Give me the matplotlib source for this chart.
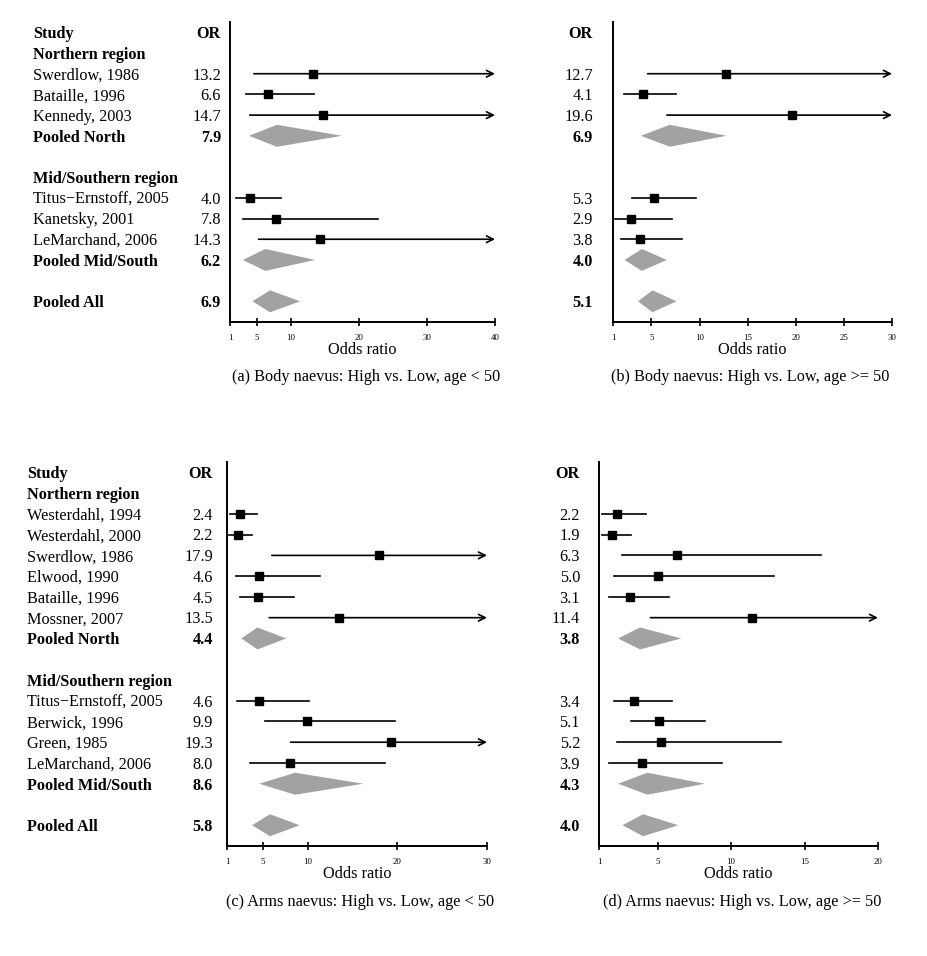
import matplotlib
matplotlib.use("Agg")
import matplotlib.pyplot as plt
from matplotlib.patches import Polygon
from matplotlib.transforms import blended_transform_factory

plt.rcParams['font.family'] = ['Liberation Serif', 'DejaVu Serif']

W, H = 928, 956
FS = 11.7
BASE = 0.28  # baseline offset of a row's text, in rows

# ---- data: body naevus (panels a, b) ----
body_north = ["Swerdlow, 1986", "Bataille, 1996", "Kennedy, 2003"]
body_south = ["Titus\u2212Ernstoff, 2005", "Kanetsky, 2001", "LeMarchand, 2006"]

a_or = [13.2, 6.6, 14.7, 7.9, 4.0, 7.8, 14.3, 6.2, 6.9]
a_lo = [4.5, 3.4, 3.9, 3.8, 1.9, 2.9, 5.2, 2.9, 4.3]
a_hi = [45.0, 13.3, 48.0, 17.5, 8.5, 22.8, 46.0, 13.5, 11.3]

b_or = [12.7, 4.1, 19.6, 6.9, 5.3, 2.9, 3.8, 4.0, 5.1]
b_lo = [4.6, 2.1, 6.6, 3.9, 3.0, 1.2, 1.8, 2.2, 3.6]
b_hi = [35.0, 7.6, 58.0, 12.8, 9.6, 7.1, 8.2, 6.6, 7.6]

# ---- data: arms naevus (panels c, d) ----
arms_north = ["Westerdahl, 1994", "Westerdahl, 2000", "Swerdlow, 1986",
              "Elwood, 1990", "Bataille, 1996", "Mossner, 2007"]
arms_south = ["Titus\u2212Ernstoff, 2005", "Berwick, 1996", "Green, 1985",
              "LeMarchand, 2006"]

c_or = [2.4, 2.2, 17.9, 4.6, 4.5, 13.5, 4.4, 4.6, 9.9, 19.3, 8.0, 8.6, 5.8]
c_lo = [1.3, 1.2, 6.0, 2.0, 2.4, 5.7, 2.6, 2.1, 5.2, 8.1, 3.6, 4.6, 3.8]
c_hi = [4.4, 3.8, 52.0, 11.4, 8.5, 33.0, 7.6, 10.2, 19.7, 45.0, 18.6, 16.2, 9.1]

d_or = [2.2, 1.9, 6.3, 5.0, 3.1, 11.4, 3.8, 3.4, 5.1, 5.2, 3.9, 4.3, 4.0]
d_lo = [1.2, 1.2, 2.6, 2.0, 1.7, 4.5, 2.3, 2.0, 3.2, 2.2, 1.7, 2.3, 2.6]
d_hi = [4.2, 3.2, 16.1, 12.9, 5.8, 29.0, 6.6, 6.0, 8.2, 13.4, 9.4, 8.2, 6.4]

a_ticks = [1, 5, 10, 20, 30, 40]
b_ticks = [1, 5, 10, 15, 20, 25, 30]
c_ticks = [1, 5, 10, 20, 30]
d_ticks = [1, 5, 10, 15, 20]

captions = ["(a) Body naevus: High vs. Low, age < 50",
            "(b) Body naevus: High vs. Low, age >= 50",
            "(c) Arms naevus: High vs. Low, age < 50",
            "(d) Arms naevus: High vs. Low, age >= 50"]


def layout(north, south):
    # rows of the table: (row, label, kind), plus rows of the estimates
    rows = [(0, "Study", "head"), (1, "Northern region", "head")]
    est_rows = []
    r = 2
    for s in north:
        rows.append((r, s, "study")); est_rows.append((r, "study")); r += 1
    rows.append((r, "Pooled North", "pool")); est_rows.append((r, "pool")); r += 2
    rows.append((r, "Mid/Southern region", "head")); r += 1
    for s in south:
        rows.append((r, s, "study")); est_rows.append((r, "study")); r += 1
    rows.append((r, "Pooled Mid/South", "pool")); est_rows.append((r, "pool")); r += 2
    rows.append((r, "Pooled All", "pool")); est_rows.append((r, "pool"))
    return rows, est_rows, r + 1


fig = plt.figure(figsize=(W / 100, H / 100), dpi=100)


def panel(x0, x1, y0, y1, xmax, ticks, north, south, ors, los, his,
          study_x, or_x, show_names):
    ax = fig.add_axes([x0 / W, 1 - y1 / H, (x1 - x0) / W, (y1 - y0) / H])
    rows, est_rows, nrow = layout(north, south)
    ax.set_xlim(1, xmax)
    ax.set_ylim(nrow, -0.5)
    for sp in ["top", "right"]:
        ax.spines[sp].set_visible(False)
    ax.spines["left"].set_linewidth(1.4)
    ax.spines["bottom"].set_linewidth(1.4)
    ax.set_yticks([])
    ax.set_xticks(ticks)
    ax.set_xticklabels([str(t) for t in ticks], fontsize=6.3)
    ax.tick_params(axis="x", direction="inout", length=6, width=1.2, pad=6)
    ax.set_xlabel("Odds ratio", fontsize=FS, labelpad=0)

    tr = blended_transform_factory(fig.transFigure, ax.transData)
    for r, lab, kind in rows:
        bold = kind in ("head", "pool")
        if show_names:
            ax.text(study_x / W, r + BASE, lab, transform=tr, ha="left",
                    va="baseline", fontsize=FS,
                    fontweight="bold" if bold else "normal")
    ax.text(or_x / W, BASE, "OR", transform=tr, ha="right", va="baseline",
            fontsize=FS, fontweight="bold")

    for (r, kind), o, lo, hi in zip(est_rows, ors, los, his):
        ax.text(or_x / W, r + BASE, f"{o:.1f}", transform=tr, ha="right",
                va="baseline", fontsize=FS,
                fontweight="bold" if kind == "pool" else "normal")
        if kind == "pool":
            poly = Polygon([(lo, r), (o, r - 0.53), (hi, r), (o, r + 0.53)],
                           closed=True, facecolor="#a2a2a2", edgecolor="none")
            ax.add_patch(poly)
        else:
            if hi > xmax:
                ax.annotate("", xy=(xmax, r), xytext=(lo, r),
                            arrowprops=dict(arrowstyle="->", lw=1.2,
                                            color="black", shrinkA=0, shrinkB=0,
                                            mutation_scale=12))
            else:
                ax.plot([lo, hi], [r, r], color="black", lw=1.2)
            ax.plot(o, r, marker="s", color="black", ms=5.5, zorder=3)
    return ax


panel(230, 495, 22, 322, 40, a_ticks, body_north, body_south,
      a_or, a_lo, a_hi, 33, 221, True)
fig.text(366 / W, 1 - 377 / H, captions[0], ha="center", va="center", fontsize=FS)

panel(613, 892, 22, 322, 30, b_ticks, body_north, body_south,
      b_or, b_lo, b_hi, 0, 593, False)
fig.text(750 / W, 1 - 377 / H, captions[1], ha="center", va="center", fontsize=FS)

panel(227, 487, 462, 846, 30, c_ticks, arms_north, arms_south,
      c_or, c_lo, c_hi, 27, 213, True)
fig.text(360 / W, 1 - 902 / H, captions[2], ha="center", va="center", fontsize=FS)

panel(599, 878, 462, 846, 20, d_ticks, arms_north, arms_south,
      d_or, d_lo, d_hi, 0, 580, False)
fig.text(742 / W, 1 - 902 / H, captions[3], ha="center", va="center", fontsize=FS)

fig.savefig("out.png", dpi=100, facecolor="white")
